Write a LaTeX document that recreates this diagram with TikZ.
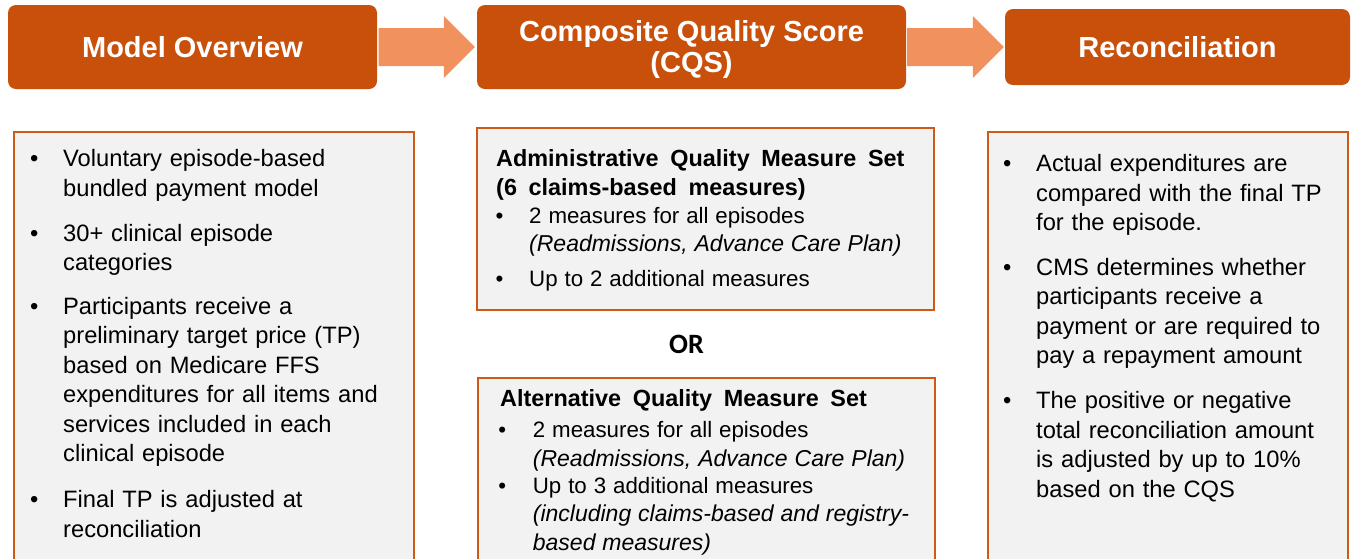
\documentclass[tikz,border=0pt]{standalone}
\usepackage{fontspec}
\setmainfont{Liberation Sans}
\newfontfamily\bodyfont{Liberation Sans}
\newfontfamily\headfont{Liberation Sans Bold}
\newfontfamily\orfont{Carlito}
\usetikzlibrary{calc}

\definecolor{hdrorange}{HTML}{C8500B}
\definecolor{floworange}{HTML}{F0915E}
\definecolor{edgeorange}{HTML}{CC5A18}
\definecolor{panelgray}{HTML}{F2F2F2}

% bullet hung into the left margin of a paragraph node
\newcommand\bulmark[1]{\leavevmode\llap{\makebox[#1][l]{•}}}
% italic note lines in the middle panels
\newcommand\noteline[1]{{\fontsize{23}{28.3}\selectfont\itshape #1}}

\tikzset{
  hdr/.style={fill=hdrorange, rounded corners=8pt, inner sep=0pt, text=white,
    align=center, font={\fontsize{29}{31}\selectfont\bfseries}},
  panel/.style={fill=panelgray, draw=edgeorange, line width=2pt, inner sep=0pt,
    anchor=north west},
  flow/.style={fill=floworange},
  sidetext/.style={anchor=north west, inner sep=0pt, text width=#1, align=left,
    font={\bodyfont\fontsize{23.7}{29.5}\selectfont},
    execute at begin node={\spaceskip=0.33em plus 0.1em\relax}},
  midtext/.style={anchor=north west, inner sep=0pt, text width=#1, align=left,
    font={\bodyfont\fontsize{22.3}{28.3}\selectfont},
    execute at begin node={\spaceskip=0.31em plus 0.1em\relax}},
  midhead/.style={anchor=north west, inner sep=0pt, text width=#1, align=left,
    font={\headfont\fontsize{23.4}{28.5}\selectfont},
    execute at begin node={\spaceskip=0.5em plus 0.1em\relax}},
}

\begin{document}
\begin{tikzpicture}[x=1pt,y=-1pt]
\useasboundingbox (0,0) rectangle (1351,558);
\clip (0,0) rectangle (1351,558);

% ---- stage headers ----
\node[hdr, minimum width=369pt, minimum height=84pt] (h1) at (192.5,47) {Model Overview};
\node[hdr, minimum width=429pt, minimum height=84pt] (h2) at (691.5,47) {\rule{0pt}{26pt}Composite Quality Score\\(CQS)};
\node[hdr, minimum width=345pt, minimum height=76pt] (h3) at (1177.5,47) {Reconciliation};

% ---- block arrows between headers ----
\path (h1.east) ++(1.5,0) coordinate (a1s);
\path (h2.west) ++(-2,0) coordinate (a1e);
\path (h2.east) ++(1,0) coordinate (a2s);
\path (h3.west) ++(-1,0) coordinate (a2e);
\foreach \s/\e in {a1s/a1e, a2s/a2e}{
  \fill[flow] ($(\s)+(0,-19)$) -- ($(\e)+(-31,-19)$) -- ($(\e)+(-31,-31)$) -- (\e)
    -- ($(\e)+(-31,31)$) -- ($(\e)+(-31,19)$) -- ($(\s)+(0,19)$) -- cycle;
}

% ---- panels ----
\node[panel, minimum width=400pt, minimum height=460pt] (p1) at (13,131) {};
\node[panel, minimum width=457pt, minimum height=182pt] (p2) at (476,127) {};
\node[panel, minimum width=457pt, minimum height=220pt] (p3) at (477,377) {};
\node[panel, minimum width=360pt, minimum height=460pt] (p4) at (987,131) {};

% ---- Model Overview ----
\node[sidetext=370pt] (l1) at (63,{166.5-20.65}) {\strut\bulmark{33pt}Voluntary episode-based\\bundled payment model};
\node[sidetext=370pt] (l2) at (63,{241-20.65}) {\strut\bulmark{33pt}30+ clinical episode\\categories};
\node[sidetext=370pt] (l3) at (63,{314-20.65}) {\strut\bulmark{33pt}Participants receive a\\preliminary target price (TP)\\based on Medicare FFS\\expenditures for all items and\\services included in each\\clinical episode};
\node[sidetext=370pt] (l4) at (63,{507.5-20.65}) {\strut\bulmark{33pt}Final TP is adjusted at\\reconciliation};

% ---- CQS: administrative set ----
\node[midhead=440pt] (m0) at (496,{166.7-19.95}) {\strut Administrative Quality Measure Set\\(6 claims-based measures)};
\node[midtext=420pt] (m1) at (529,{223.3-19.8}) {\strut\bulmark{33.5pt}2 measures for all episodes\\\noteline{(Readmissions, Advance Care Plan)}};
\node[midtext=420pt] (m2) at (529,{286.7-19.8}) {\strut\bulmark{33.5pt}Up to 2 additional measures};

\node[anchor=base, inner sep=0pt, font={\orfont\fontsize{28}{30}\selectfont\bfseries}] (or) at (686.5,353) {OR};

% ---- CQS: alternative set ----
\node[midhead=440pt] (n0) at (500,{406-19.95}) {\strut Alternative Quality Measure Set};
\node[midtext=420pt] (n1) at (532.7,{437.7-19.8}) {\strut\bulmark{34.5pt}2 measures for all episodes\\\noteline{(Readmissions, Advance Care Plan)}};
\node[midtext=420pt] (n2) at (532.7,{493.3-19.8}) {\strut\bulmark{34.5pt}Up to 3 additional measures\\\noteline{(including claims-based and registry-}\\\noteline{based measures)}};

% ---- Reconciliation ----
\node[sidetext=340pt] (r1) at (1036,{171.7-20.65}) {\strut\bulmark{33pt}Actual expenditures are\\compared with the final TP\\for the episode.};
\node[sidetext=340pt] (r2) at (1036,{275-20.65}) {\strut\bulmark{33pt}CMS determines whether\\participants receive a\\payment or are required to\\pay a repayment amount};
\node[sidetext=340pt] (r3) at (1036,{408.3-20.65}) {\strut\bulmark{33pt}The positive or negative\\total reconciliation amount\\is adjusted by up to 10\%\\based on the CQS};
\end{tikzpicture}
\end{document}
